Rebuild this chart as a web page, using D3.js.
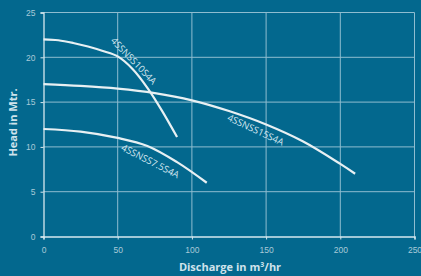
<!DOCTYPE html>
<html>
<head>
<meta charset="utf-8">
<script src="https://cdn.jsdelivr.net/npm/d3@7"></script>
<style>
  html, body { margin: 0; padding: 0; background: #03688e; }
  svg { display: block; }
</style>
</head>
<body>
<div id="chart"></div>
<script>
// Pump performance curves - head vs discharge

const xTicks = [0, 50, 100, 150, 200, 250];
const yTicks = [0, 5, 10, 15, 20, 25];

// Curve names and their (discharge, head) points
const seriesNames = ['4SSNSS10S4A', '4SSNSS15S4A', '4SSNSS7.5S4A'];
const pump10Q = [0, 10, 20, 30, 40, 50, 60, 70, 80, 90];
const pump10H = [22, 21.9, 21.6, 21.2, 20.7, 20.1, 18.7, 16.6, 14.0, 11.1];
const pump15Q = [0, 25, 50, 75, 100, 125, 150, 175, 200, 210];
const pump15H = [17, 16.8, 16.5, 16.0, 15.2, 14.0, 12.5, 10.6, 8.1, 7];
const pump75Q = [0, 25, 50, 70, 90, 110];
const pump75H = [12, 11.7, 11.0, 10.1, 8.3, 6];

function createChart() {
    const width = 421, height = 276;
    const margin = {top: 12.5, right: 6.5, bottom: 39.5, left: 43.5};
    const w = width - margin.left - margin.right;
    const h = height - margin.top - margin.bottom;

    const svg = d3.select('#chart').append('svg')
        .attr('width', width)
        .attr('height', height);

    svg.append('rect')
        .attr('width', width)
        .attr('height', height)
        .attr('fill', '#03688e');

    const g = svg.append('g')
        .attr('transform', `translate(${margin.left},${margin.top})`);

    const x = d3.scaleLinear().domain([0, 250]).range([0, w]);
    const y = d3.scaleLinear().domain([0, 25]).range([h, 0]);

    // Grid lines
    g.selectAll('line.vgrid')
        .data(xTicks.slice(1))
        .enter()
        .append('line')
        .attr('class', 'vgrid')
        .attr('x1', d => x(d)).attr('x2', d => x(d))
        .attr('y1', 0).attr('y2', h)
        .attr('stroke', '#8fbdd0')
        .attr('stroke-width', 1);

    g.selectAll('line.hgrid')
        .data(yTicks.slice(1))
        .enter()
        .append('line')
        .attr('class', 'hgrid')
        .attr('x1', 0).attr('x2', w)
        .attr('y1', d => y(d)).attr('y2', d => y(d))
        .attr('stroke', '#8fbdd0')
        .attr('stroke-width', 1);

    // Axes
    const xAxis = g.append('g')
        .attr('transform', `translate(0,${h})`)
        .call(d3.axisBottom(x).tickValues(xTicks).tickSize(3).tickPadding(7));
    const yAxis = g.append('g')
        .call(d3.axisLeft(y).tickValues(yTicks).tickSize(3).tickPadding(5));

    [xAxis, yAxis].forEach(a => {
        a.select('.domain').attr('stroke', '#d6e8ef').attr('stroke-width', 1.3);
        a.selectAll('.tick line').attr('stroke', '#d6e8ef');
        a.selectAll('.tick text')
            .attr('fill', '#a9cad8')
            .style('font-family', 'Arial, "Liberation Sans", sans-serif')
            .style('font-size', '8.5px');
    });

    // Curves
    const line = d3.line()
        .x(d => x(d[0]))
        .y(d => y(d[1]))
        .curve(d3.curveCatmullRom);

    const curves = [
        d3.zip(pump10Q, pump10H),
        d3.zip(pump15Q, pump15H),
        d3.zip(pump75Q, pump75H)
    ];

    g.selectAll('path.curve')
        .data(curves)
        .enter()
        .append('path')
        .attr('class', 'curve')
        .attr('d', line)
        .attr('fill', 'none')
        .attr('stroke', '#e8f0f3')
        .attr('stroke-width', 2.2);

    // Curve labels, placed along each curve
    const labelPos = [
        {q: 60.8, hd: 19.6, angle: 46},
        {q: 143, hd: 11.9, angle: 25},
        {q: 72, hd: 8.4, angle: 27}
    ];

    g.selectAll('text.curve-label')
        .data(seriesNames)
        .enter()
        .append('text')
        .attr('class', 'curve-label')
        .attr('transform', (d, i) => `translate(${x(labelPos[i].q)},${y(labelPos[i].hd)}) rotate(${labelPos[i].angle})`)
        .attr('text-anchor', 'middle')
        .attr('dy', '0.35em')
        .attr('fill', '#d4e6ee')
        .style('font-family', '"Open Sans", sans-serif')
        .style('font-size', '9.5px')
        .text(d => d);

    // Axis titles
    svg.append('text')
        .attr('x', margin.left + w / 2 + 1)
        .attr('y', 270.5)
        .attr('text-anchor', 'middle')
        .attr('fill', '#cfe3ec')
        .style('font-family', '"Open Sans", sans-serif')
        .style('font-weight', 'bold')
        .style('font-size', '11px')
        .text('Discharge in m³/hr');

    svg.append('text')
        .attr('transform', `translate(17,${margin.top + h / 2 - 2}) rotate(-90)`)
        .attr('text-anchor', 'middle')
        .attr('fill', '#cfe3ec')
        .style('font-family', '"Open Sans", sans-serif')
        .style('font-weight', 'bold')
        .style('font-size', '11px')
        .text('Head in Mtr.');
}

createChart();
</script>
</body>
</html>
